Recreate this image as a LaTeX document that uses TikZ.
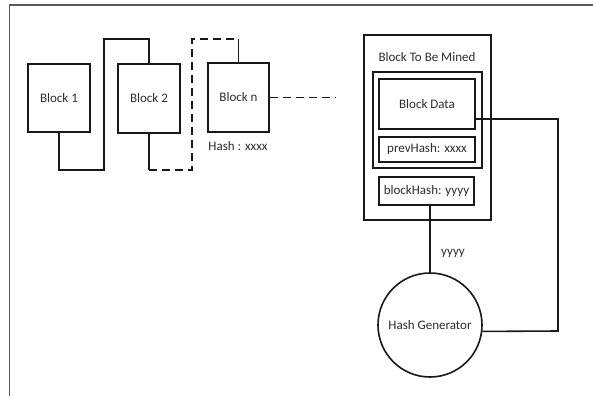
\documentclass[tikz,border=0pt]{standalone}
\usepackage{fontspec}
\setmainfont{Carlito}
\begin{document}
\begin{tikzpicture}[x=1pt,y=-1pt,
  every node/.style={font=\fontsize{13}{15}\selectfont, text=black!82, inner sep=0pt},
  blk/.style={draw=black!90, line width=1.6pt, rectangle, anchor=center},
  wire/.style={draw=black!90, line width=1.6pt},
  dwire/.style={draw=black!90, line width=1.6pt, dash pattern=on 8pt off 5pt},
  frame/.style={draw=black!65, line width=1.6pt}]
\useasboundingbox (0,0) rectangle (593,396);
\fill[white] (0,0) rectangle (593,396);
\draw[frame] (593,5) -- (9.5,5) -- (9.5,396);

% chain blocks
\node[blk, minimum width=62pt, minimum height=68pt] (b1) at (59,98) {Block 1};
\node[blk, minimum width=62pt, minimum height=69pt] (b2) at (149,98.5) {Block 2};
\node[blk, minimum width=61pt, minimum height=69pt] (bn) at (238.5,97.5) {Block n};
\node (hashx) at (238,146) {Hash : xxxx};

\coordinate (p1) at (104,170);
\coordinate (p2) at (104,39);
\draw[wire] (b1.south) |- (p1) -- (p2) -| (b2.north);

\coordinate (q0) at (149,170);
\coordinate (q1) at (192,170);
\coordinate (q2) at (192,39);
\coordinate (q3) at (238.5,39);
\draw[wire] (b2.south) -- (q0);
\draw[dwire] (q0) -- (q1) -- (q2) -- (q3);
\draw[wire] (q3) -- (bn.north);

\coordinate (r1) at (335,97.5);
\draw[dwire] (bn.east) -- (r1);

% block to be mined
\node[blk, minimum width=127pt, minimum height=185pt] (mined) at (427.5,127.5) {};
\node (title) at (427,57) {Block To Be Mined};
\node[blk, minimum width=109pt, minimum height=96pt] (inner) at (427.5,120) {};
\node[blk, minimum width=96pt, minimum height=50pt] (bd) at (427,104) {Block Data};
\node[blk, minimum width=96pt, minimum height=25pt] (ph) at (427,149.5) {prevHash: xxxx};
\node[blk, minimum width=95pt, minimum height=28pt] (bh) at (426.5,191) {blockHash: yyyy};

% hash generator
\node[draw=black!90, line width=1.6pt, circle, minimum size=104pt] (hg) at (430,325) {Hash Generator};
\node (yy) at (453,253) {yyyy};

\draw[wire] (hg.north) -- (hg.north |- bh.south);
\coordinate (s1) at (558,119);
\coordinate (s2) at (558,331);
\draw[wire] ([yshift=-15pt]bd.east) -- (s1) -- (s2) -- (hg.-7);
\end{tikzpicture}
\end{document}
